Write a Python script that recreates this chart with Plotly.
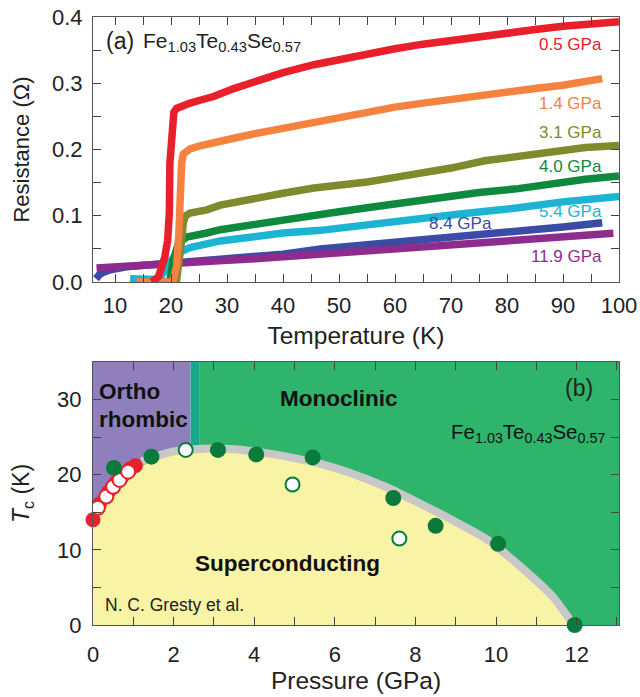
import plotly.graph_objects as go

# ---------------- Panel (a) data: R(T) at various pressures ----------------
red_T = [16.6, 17.2, 17.75, 18.35, 18.9, 19.4, 19.7, 19.8, 20.1, 20.5, 21.0, 22.0, 23.4, 25.0, 27.6, 31.2, 35, 40, 45.5, 50, 55, 60, 65, 70, 75, 80, 85, 90, 95, 100]
red_R = [0.0, 0.004, 0.008, 0.023, 0.038, 0.063, 0.104, 0.179, 0.24, 0.256, 0.262, 0.266, 0.27, 0.274, 0.28, 0.292, 0.303, 0.316, 0.328, 0.336, 0.343, 0.352, 0.359, 0.365, 0.37, 0.375, 0.381, 0.386, 0.389, 0.393]

orange_T = [13.8, 16, 18, 20.0, 20.4, 21.0, 21.4, 21.5, 21.6, 21.9, 22.2, 23.4, 25, 27.6, 31.2, 35, 40, 45.5, 50, 55, 60, 65, 70, 75, 80, 85, 90, 97]
orange_R = [0.0, 0.0, 0.0, 0.0, 0.003, 0.023, 0.073, 0.114, 0.154, 0.18, 0.193, 0.201, 0.205, 0.211, 0.217, 0.224, 0.232, 0.242, 0.249, 0.257, 0.264, 0.27, 0.276, 0.282, 0.287, 0.292, 0.297, 0.307]

olive_T = [19.3, 20.8, 21.0, 21.6, 21.9, 22.2, 22.6, 23.4, 26.4, 28.8, 31, 35, 40, 45.5, 50, 55, 60, 65, 70, 76, 82, 88, 94, 100]
olive_R = [0.0, 0.0, 0.003, 0.033, 0.063, 0.09, 0.1, 0.104, 0.109, 0.116, 0.12, 0.126, 0.134, 0.142, 0.145, 0.151, 0.158, 0.164, 0.172, 0.183, 0.19, 0.197, 0.203, 0.206]

green_T = [17.5, 19.5, 19.8, 20.4, 21.3, 22.8, 26.4, 28.8, 35, 40, 45.5, 50, 55, 60, 65, 70, 75, 82, 88, 94, 100]
green_R = [0.0, 0.0, 0.003, 0.033, 0.058, 0.068, 0.074, 0.079, 0.087, 0.094, 0.101, 0.106, 0.112, 0.118, 0.124, 0.13, 0.135, 0.141, 0.149, 0.155, 0.16]

cyan_T = [12.7, 15, 17.5, 18.5, 19.2, 21, 23.4, 28.8, 35, 40, 46.7, 55, 64.6, 72, 82, 90, 100]
cyan_R = [0.005, 0.004, 0.004, 0.012, 0.023, 0.043, 0.052, 0.062, 0.069, 0.074, 0.078, 0.087, 0.096, 0.103, 0.112, 0.121, 0.129]

blue_T = [6.6, 7.3, 8.3, 9.4, 12, 16.6, 22, 28.5, 35, 40, 46.7, 55, 65, 75, 82, 90, 97]
blue_R = [0.005, 0.012, 0.016, 0.019, 0.023, 0.026, 0.029, 0.033, 0.038, 0.042, 0.05, 0.056, 0.064, 0.071, 0.077, 0.083, 0.0895]

purple_T = [6.7, 10, 16.6, 22, 28.5, 35, 40, 46.7, 55, 65, 75, 82, 90, 99]
purple_R = [0.021, 0.023, 0.026, 0.029, 0.032, 0.035, 0.038, 0.041, 0.047, 0.053, 0.06, 0.064, 0.069, 0.0735]

series_labels = ["0.5 GPa", "1.4 GPa", "3.1 GPa", "4.0 GPa", "5.4 GPa", "8.4 GPa", "11.9 GPa"]
label_T = [97.3, 97.3, 97.3, 97.3, 97.3, 71.7, 97.3]
label_R = [0.358, 0.270, 0.225, 0.174, 0.106, 0.089, 0.038]

# ---------------- Panel (b) data: phase diagram ----------------
phase_bounds = [0, 2.42, 2.65, 13.05]       # ortho | transition strip | monoclinic
dome_P = [0, 0.1, 0.3, 0.5, 0.7, 0.9, 1.1, 1.3, 1.6, 2.0, 2.5, 3.0, 3.5, 4.0, 4.5, 5.0, 5.6, 6.4, 7.3, 8.1, 8.9, 9.8, 10.6, 11.4, 11.9]
dome_T = [13.2, 15.0, 16.6, 17.9, 18.9, 19.8, 20.6, 21.4, 22.2, 22.8, 23.2, 23.4, 23.3, 23.0, 22.6, 22.1, 21.5, 20.2, 18.3, 16.2, 14.0, 11.3, 7.8, 3.8, 0.0]
band_P = [1.2, 1.6, 2.0, 2.5, 3.0, 3.5, 4.0, 4.5, 5.0, 5.6, 6.4, 7.3, 8.1, 8.9, 9.8, 10.6, 11.4, 11.9]
band_T = [21.8, 22.5, 23.1, 23.4, 23.5, 23.4, 23.1, 22.7, 22.2, 21.5, 20.2, 18.3, 16.2, 14.0, 11.3, 7.8, 3.8, 0.2]

red_fill_P = [0.0, 0.16, 0.38, 0.56, 0.73, 0.92, 1.05]
red_fill_T = [14.0, 16.1, 17.7, 18.9, 19.8, 20.8, 21.2]
red_open_P = [0.12, 0.33, 0.5, 0.66, 0.87]
red_open_T = [15.6, 17.1, 18.4, 19.3, 20.4]
green_fill_P = [0.52, 1.45, 3.1, 4.05, 5.45, 7.45, 8.5, 10.05, 11.95]
green_fill_T = [20.9, 22.4, 23.3, 22.7, 22.3, 16.9, 13.2, 10.8, 0.0]
green_open_P = [2.3, 4.95, 7.6]
green_open_T = [23.3, 18.7, 11.5]

FONT = "Liberation Sans, Arial, Helvetica, sans-serif"
C_RED, C_OR, C_OL, C_GR, C_CY, C_BL, C_PU = "#E8202B", "#F5823F", "#7E8A2B", "#0E8A3F", "#1BB4D3", "#3B4BA6", "#8E2C8E"
colors = [C_RED, C_OR, C_OL, C_GR, C_CY, C_BL, C_PU]

fig = go.Figure()

draw = [(blue_T, blue_R, C_BL), (purple_T, purple_R, C_PU), (cyan_T, cyan_R, C_CY),
        (green_T, green_R, C_GR), (olive_T, olive_R, C_OL), (orange_T, orange_R, C_OR),
        (red_T, red_R, C_RED)]
for xs, ys, c in draw:
    fig.add_trace(go.Scatter(x=xs, y=ys, mode="lines", line=dict(color=c, width=7.5),
                             xaxis="x", yaxis="y", showlegend=False, hoverinfo="skip"))

# Panel (b)
fig.add_trace(go.Scatter(x=dome_P, y=dome_T, mode="lines", fill="tozeroy", fillcolor="#F9F3A5",
                         line=dict(color="rgba(0,0,0,0)", width=0, shape="spline", smoothing=0.5),
                         xaxis="x2", yaxis="y2", showlegend=False, hoverinfo="skip"))
fig.add_trace(go.Scatter(x=band_P, y=band_T, mode="lines", line=dict(color="#C8C8C8", width=8, shape="spline", smoothing=0.5),
                         xaxis="x2", yaxis="y2", showlegend=False, hoverinfo="skip"))
fig.add_trace(go.Scatter(x=red_fill_P, y=red_fill_T, mode="markers",
                         marker=dict(size=15, color="#E8202B", line=dict(width=0)),
                         xaxis="x2", yaxis="y2", showlegend=False, cliponaxis=False))
fig.add_trace(go.Scatter(x=red_open_P, y=red_open_T, mode="markers",
                         marker=dict(size=14, color="white", line=dict(width=2, color="#E8202B")),
                         xaxis="x2", yaxis="y2", showlegend=False))
fig.add_trace(go.Scatter(x=green_fill_P, y=green_fill_T, mode="markers",
                         marker=dict(size=16, color="#0B7B3C", line=dict(width=0)),
                         xaxis="x2", yaxis="y2", showlegend=False, cliponaxis=False))
fig.add_trace(go.Scatter(x=green_open_P, y=green_open_T, mode="markers",
                         marker=dict(size=14, color="white", line=dict(width=2, color="#0B7B3C")),
                         xaxis="x2", yaxis="y2", showlegend=False))

shapes = [
    dict(type="rect", xref="x2", yref="y2", x0=phase_bounds[0], x1=phase_bounds[1], y0=0, y1=35,
         fillcolor="#8F80BD", line=dict(width=0), layer="below"),
    dict(type="rect", xref="x2", yref="y2", x0=phase_bounds[1], x1=phase_bounds[2], y0=0, y1=35,
         fillcolor="#17A98A", line=dict(width=0), layer="below"),
    dict(type="rect", xref="x2", yref="y2", x0=phase_bounds[2], x1=phase_bounds[3], y0=0, y1=35,
         fillcolor="#2EB46B", line=dict(width=0), layer="below"),
]

ann = []
for lab, tx, ry, c in zip(series_labels, label_T, label_R, colors):
    anchor = "center" if lab == "8.4 GPa" else "right"
    ann.append(dict(x=tx, y=ry, xref="x", yref="y", text=lab, showarrow=False, xanchor=anchor,
                    font=dict(family=FONT, size=17, color=c)))
ann += [
    dict(x=8.0, y=0.364, xref="x", yref="y", text="(a)", showarrow=False, xanchor="left",
         font=dict(family=FONT, size=23, color="#222")),
    dict(x=14.6, y=0.362, xref="x", yref="y", text="Fe<sub>1.03</sub>Te<sub>0.43</sub>Se<sub>0.57</sub>",
         showarrow=False, xanchor="left", font=dict(family=FONT, size=21, color="#222")),
    dict(x=0.1, y=31.1, xref="x2", yref="y2", text="<b>Ortho</b>", showarrow=False, xanchor="left",
         font=dict(family=FONT, size=22.5, color="#111")),
    dict(x=0.1, y=27.3, xref="x2", yref="y2", text="<b>rhombic</b>", showarrow=False, xanchor="left",
         font=dict(family=FONT, size=22.5, color="#111")),
    dict(x=6.1, y=30.2, xref="x2", yref="y2", text="<b>Monoclinic</b>", showarrow=False,
         font=dict(family=FONT, size=22.5, color="#111")),
    dict(x=12.05, y=31.6, xref="x2", yref="y2", text="(b)", showarrow=False,
         font=dict(family=FONT, size=23, color="#222")),
    dict(x=12.75, y=25.6, xref="x2", yref="y2", text="Fe<sub>1.03</sub>Te<sub>0.43</sub>Se<sub>0.57</sub>",
         showarrow=False, xanchor="right", font=dict(family=FONT, size=20.5, color="#111")),
    dict(x=4.82, y=8.2, xref="x2", yref="y2", text="<b>Superconducting</b>", showarrow=False,
         font=dict(family=FONT, size=22.5, color="#111")),
    dict(x=0.25, y=2.7, xref="x2", yref="y2", text="N. C. Gresty et al.", showarrow=False, xanchor="left",
         font=dict(family=FONT, size=17.5, color="#222")),
]

axis_common = dict(showline=True, linecolor="#555", linewidth=1.2, mirror="ticks", ticks="inside",
                   ticklen=8, tickwidth=1.2, tickcolor="#444", showgrid=False, zeroline=False,
                   automargin=False, tickfont=dict(family=FONT, size=22, color="#222"))

fig.update_layout(
    width=640, height=697,
    margin=dict(l=93, r=21, t=17, b=72),
    paper_bgcolor="white", plot_bgcolor="white",
    shapes=shapes, annotations=ann,
    xaxis=dict(domain=[0, 1], anchor="y", range=[6.07, 100], tickvals=[10, 20, 30, 40, 50, 60, 70, 80, 90, 100],
               minor=dict(tickvals=[5 * i for i in range(2, 20)], ticklen=8, tickcolor="#444", ticks="inside"),
               title=dict(text="Temperature (K)", font=dict(family=FONT, size=24.5, color="#222"), standoff=10),
               ticklabelstandoff=3, **axis_common),
    yaxis=dict(domain=[0.5641, 1], anchor="x", range=[0, 0.4], tickvals=[0, 0.1, 0.2, 0.3, 0.4],
               ticktext=["0.0", "0.1", "0.2", "0.3", "0.4"],
               minor=dict(tickvals=[0.05, 0.15, 0.25, 0.35], ticklen=8, tickcolor="#444", ticks="inside"),
               title=dict(text="Resistance (Ω)", font=dict(family=FONT, size=22, color="#222"), standoff=16),
               ticklabelstandoff=5, **axis_common),
    xaxis2=dict(domain=[0, 1], anchor="y2", range=[0, 13.05], tickvals=[0, 2, 4, 6, 8, 10, 12],
                minor=dict(tickvals=[1, 3, 5, 7, 9, 11, 13], ticklen=8, tickcolor="#444", ticks="inside"),
                title=dict(text="Pressure (GPa)", font=dict(family=FONT, size=24.5, color="#222"), standoff=6),
                ticklabelstandoff=9, **axis_common),
    yaxis2=dict(domain=[0, 0.4326], anchor="x2", range=[0, 35], tickvals=[0, 10, 20, 30],
                minor=dict(tickvals=[5, 15, 25], ticklen=8, tickcolor="#444", ticks="inside"),
                title=dict(text="<i>T</i><sub>c</sub> (K)", font=dict(family=FONT, size=23, color="#222"), standoff=20),
                ticklabelstandoff=6, **axis_common),
)

fig.write_html("out.html")
